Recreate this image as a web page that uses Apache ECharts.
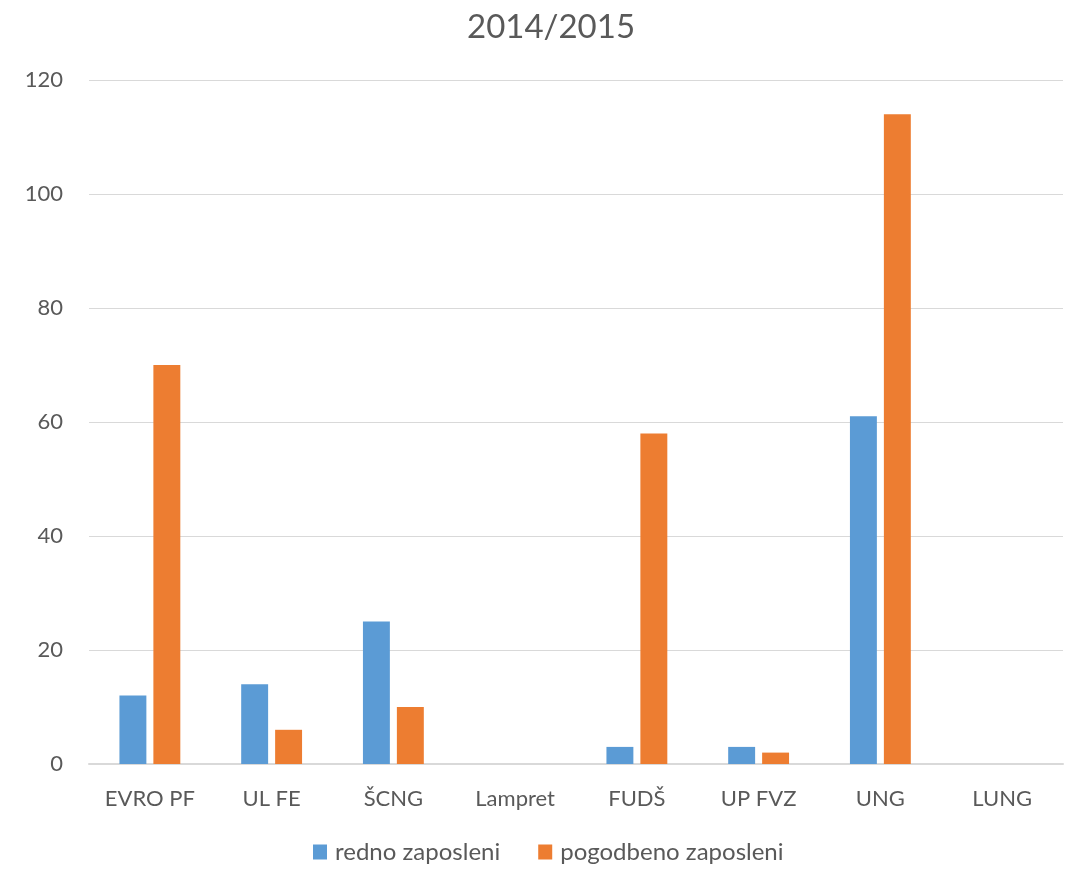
<!DOCTYPE html>
<html><head><meta charset="utf-8">
<script src="https://cdn.jsdelivr.net/npm/echarts@6/dist/echarts.min.js"></script>
<style>html,body{margin:0;padding:0;background:#fff}#c{width:1071px;height:871px}</style>
</head><body><div id="c"></div>
<script>
const categories = ['EVRO PF','UL FE','ŠCNG','Lampret','FUDŠ','UP FVZ','UNG','LUNG'];
const redno = [12, 14, 25, 0, 3, 3, 61, 0];
const pogodbeno = [70, 6, 10, 0, 58, 2, 114, 0];
const seriesNames = ['redno zaposleni','pogodbeno zaposleni'];
const chartTitle = '2014/2015';
const FONT = 'Lato, "Open Sans", sans-serif';
const chart = echarts.init(document.getElementById('c'));
chart.setOption({
  animation: false,
  title: {text: chartTitle, left: 462, top: 6, textStyle: {fontFamily: FONT, fontSize: 33, fontWeight: 'normal', color: '#595959'}},
  legend: {bottom: 2, left: 308, itemWidth: 14, itemHeight: 15, itemGap: 38, icon: 'rect',
    textStyle: {fontFamily: FONT, fontSize: 24, color: '#595959', padding: [0, 0, 0, 3]}},
  grid: {left: 89, right: 8, top: 80, bottom: 107},
  xAxis: {type: 'category', data: categories,
    axisLine: {lineStyle: {color: '#D9D9D9', width: 2}}, axisTick: {show: false},
    axisLabel: {fontFamily: FONT, fontSize: 22, color: '#595959', margin: 24}},
  yAxis: {type: 'value', min: 0, max: 120, interval: 20,
    axisLine: {show: false}, axisTick: {show: false},
    splitLine: {lineStyle: {color: '#D9D9D9', width: 1}},
    axisLabel: {fontFamily: FONT, fontSize: 22, color: '#595959', margin: 26}},
  series: [
    {name: seriesNames[0], type: 'bar', data: redno, barGap: '26%', barCategoryGap: '50%',
     itemStyle: {color: '#5B9BD5'}},
    {name: seriesNames[1], type: 'bar', data: pogodbeno,
     itemStyle: {color: '#ED7D31'}}
  ]
});
</script></body></html>
